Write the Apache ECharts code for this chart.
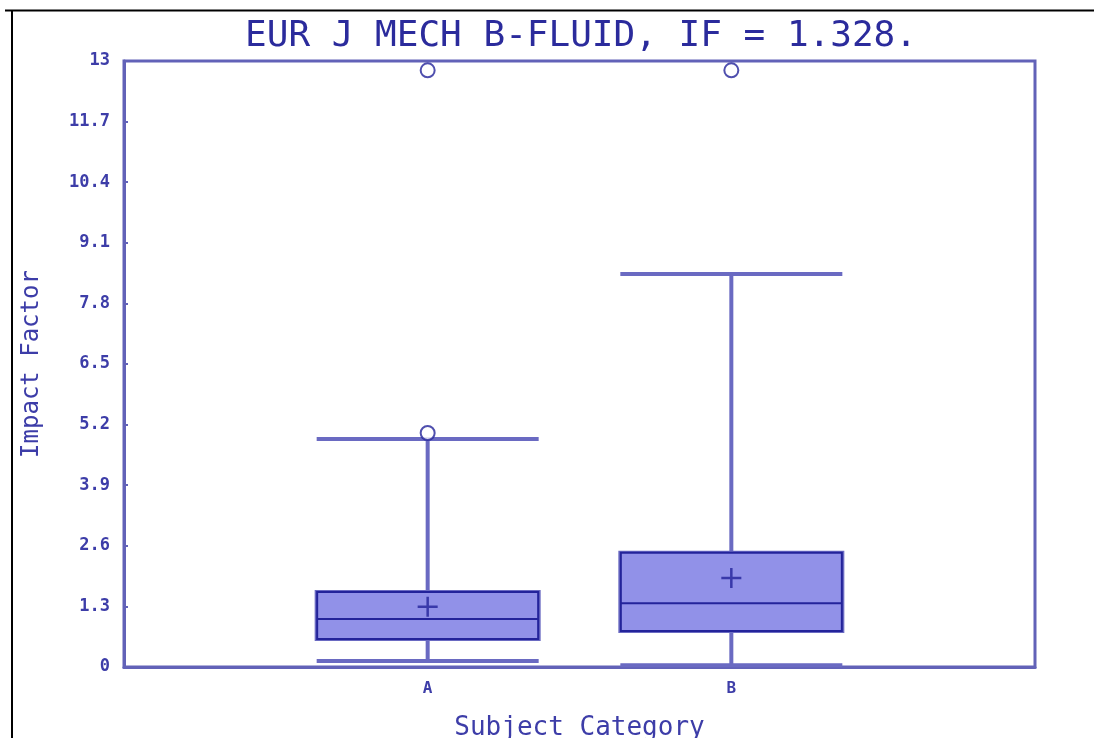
<!DOCTYPE html>
<html><head><meta charset="utf-8">
<script src="https://cdn.jsdelivr.net/npm/echarts@6/dist/echarts.min.js"></script>
<style>html,body{margin:0;padding:0;background:#fff}#c{width:1094px;height:738px}</style>
</head><body><div id="c"></div>
<script>
const titleText = 'EUR J MECH B-FLUID, IF = 1.328.';
const categories = ['A', 'B'];
// [min, Q1, median, Q3, max]
const boxValues = [
  [0.13, 0.60, 1.03, 1.61, 4.89],
  [0.04, 0.77, 1.37, 2.45, 8.43]
];
const meanValues = [1.29, 1.91];
const outliers = [['A', 5.02], ['A', 12.8], ['B', 12.8]];
const yTicks = [0, 1.3, 2.6, 3.9, 5.2, 6.5, 7.8, 9.1, 10.4, 11.7, 13];

const axisCats = ['', '', categories[0], '', categories[1], '', ''];
const navy = '#23239a';
const axisCol = '#6262b8';
const textCol = '#3d3da8';

const baseX = {
  type: 'category', data: axisCats, boundaryGap: false,
  axisLine: { lineStyle: { color: axisCol, width: 3 } },
  axisTick: { show: false },
  axisLabel: { interval: 0, fontFamily: 'DejaVu Sans Mono', fontWeight: 'bold', fontSize: 16, color: textCol, margin: 14 },
  splitLine: { show: false }
};

const chart = echarts.init(document.getElementById('c'));
chart.setOption({
  animation: false,
  title: {
    text: titleText, left: 576, top: 14, textAlign: 'center',
    textStyle: { fontFamily: 'DejaVu Sans Mono', fontSize: 36, fontWeight: 'normal', color: '#2b2b9c' }
  },
  grid: { left: 124, right: 59, top: 61, bottom: 71, outerBoundsMode: 'none', containLabel: false,
          show: true, borderColor: axisCol, borderWidth: 3, backgroundColor: 'transparent' },
  xAxis: [
    Object.assign({}, baseX, {
      name: 'Subject Category', nameLocation: 'middle', nameGap: 48,
      nameTextStyle: { fontFamily: 'DejaVu Sans Mono', fontSize: 26, color: textCol }
    }),
    Object.assign({}, baseX, { show: false, position: 'bottom' })
  ],
  yAxis: {
    type: 'value', min: 0, max: 13, interval: 1.3,
    name: 'Impact Factor', nameLocation: 'middle', nameGap: 80, nameRotate: 90,
    nameTextStyle: { fontFamily: 'DejaVu Sans Mono', fontSize: 24, color: textCol },
    axisLine: { show: true, lineStyle: { color: axisCol, width: 3 } },
    axisTick: { show: true, inside: true, length: 4, lineStyle: { color: axisCol, width: 2 } },
    axisLabel: {
      fontFamily: 'DejaVu Sans Mono', fontWeight: 'bold', fontSize: 17, color: textCol, margin: 14,
      formatter: v => { const t = yTicks.find(k => Math.abs(k - v) < 1e-6); return t === undefined ? '' : String(t); }
    },
    splitLine: { show: false }
  },
  series: [
    {
      type: 'boxplot',
      xAxisIndex: 0,
      boxWidth: [222, 222],
      data: categories.map((c, i) => [c].concat(boxValues[i])),
      encode: { x: 0, y: [1, 2, 3, 4, 5] },
      itemStyle: { color: '#9191e8', borderColor: '#6a6ac2', borderWidth: 4 },
      z: 2
    },
    {
      type: 'boxplot',
      xAxisIndex: 1,
      boxWidth: [221, 221],
      data: categories.map((c, i) => [c, boxValues[i][1], boxValues[i][1], boxValues[i][2], boxValues[i][3], boxValues[i][3]]),
      encode: { x: 0, y: [1, 2, 3, 4, 5] },
      itemStyle: { color: '#9191e8', borderColor: navy, borderWidth: 2 },
      z: 3
    },
    {
      type: 'scatter',
      data: categories.map((c, i) => [c, meanValues[i]]),
      symbol: 'path://M7,0H9V7H16V9H9V16H7V9H0V7H7Z',
      symbolSize: 20,
      itemStyle: { color: navy },
      z: 5
    },
    {
      type: 'scatter',
      data: outliers,
      symbol: 'emptyCircle',
      symbolSize: 14,
      itemStyle: { color: navy, borderColor: navy, borderWidth: 2.5 },
      z: 5
    }
  ],
  graphic: [
    { type: 'line', shape: { x1: 5, y1: 10.5, x2: 1094, y2: 10.5 }, style: { stroke: '#000', lineWidth: 2 } },
    { type: 'line', shape: { x1: 12, y1: 10, x2: 12, y2: 738 }, style: { stroke: '#000', lineWidth: 2 } }
  ]
});
</script>
</body></html>
